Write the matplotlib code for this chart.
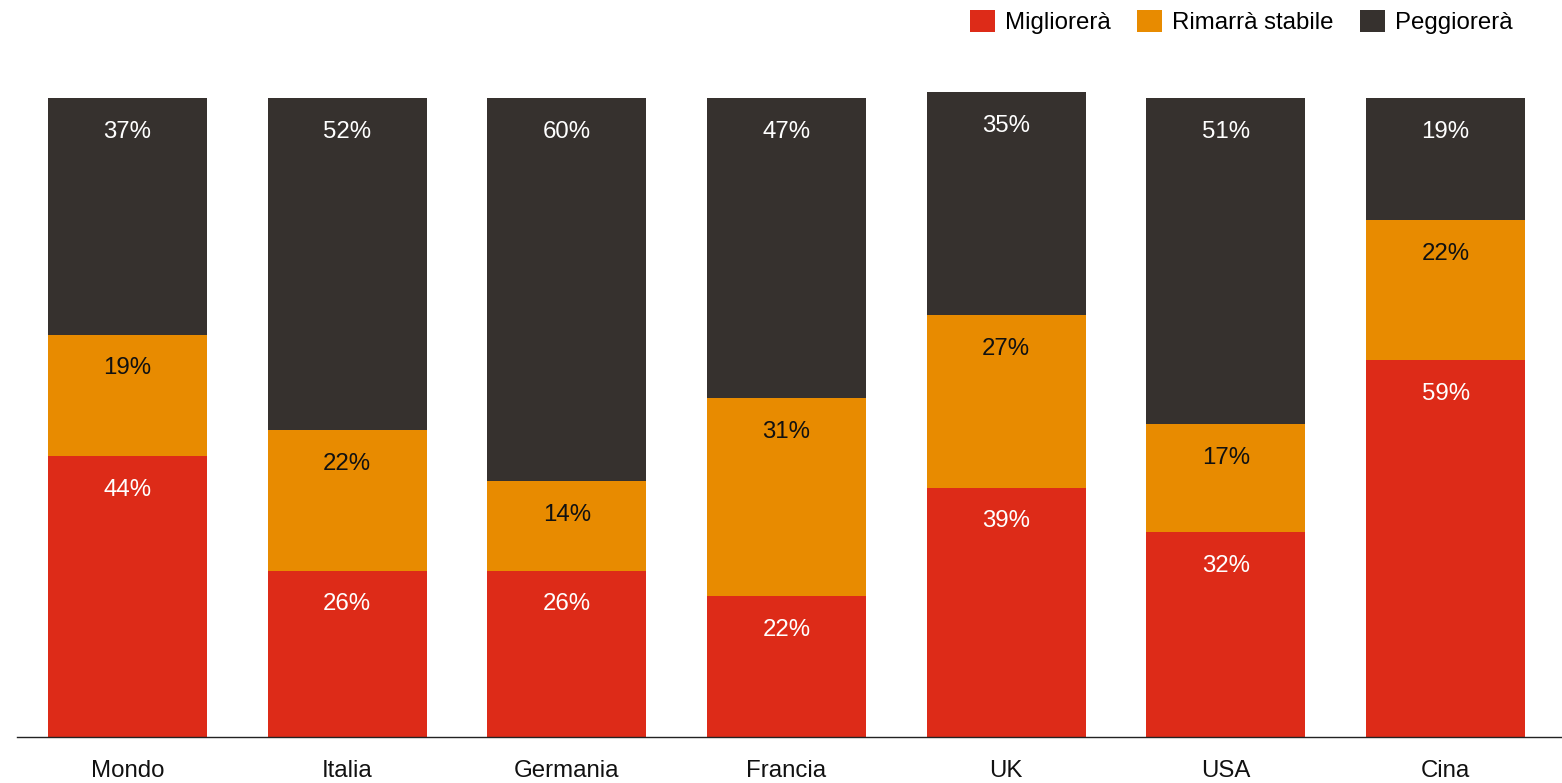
import numpy as np
import matplotlib.pyplot as plt

plt.rcParams['font.family'] = ['Liberation Sans', 'DejaVu Sans']

# dati
paesi = ['Mondo', 'Italia', 'Germania', 'Francia', 'UK', 'USA', 'Cina']
migliorera = [44, 26, 26, 22, 39, 32, 59]
stabile = [19, 22, 14, 31, 27, 17, 22]
peggiorera = [37, 52, 60, 47, 35, 51, 19]

serie = [
    ('Migliorerà', migliorera, '#DD2B18', 'white'),
    ('Rimarrà stabile', stabile, '#E88B00', '#111111'),
    ('Peggiorerà', peggiorera, '#36312E', 'white'),
]

FS = 17.3

fig = plt.figure(figsize=(15.62, 7.83), dpi=100)
ax = fig.add_axes([17 / 1562, (783 - 736.5) / 783, 1545 / 1562, (736.5 - 90) / 783])

x = np.arange(len(paesi))
base = np.zeros(len(paesi))
for nome, valori, colore, col_testo in serie:
    valori = np.array(valori, dtype=float)
    ax.bar(x, valori, width=0.724, bottom=base, color=colore, label=nome, linewidth=0)
    for xi, b, v in zip(x, base, valori):
        ax.text(xi, b + v - 5.3, f'{int(v)}%', ha='center', va='center',
                fontsize=FS, color=col_testo)
    base += valori

ax.set_xlim(-0.503, 6.53)
ax.set_ylim(0, 101.33)
for s in ['top', 'right', 'left']:
    ax.spines[s].set_visible(False)
ax.spines['bottom'].set_linewidth(1)
ax.spines['bottom'].set_color('#222222')
ax.set_yticks([])
ax.set_xticks(x)
ax.set_xticklabels(paesi, fontsize=FS, color='#111111')
ax.tick_params(axis='x', length=0, pad=17)

fig.legend(loc='upper right', bbox_to_anchor=(0.9744, 1.0), ncol=3, frameon=False,
           fontsize=FS, handlelength=1.04, handleheight=1.04, handletextpad=0.42,
           columnspacing=1.08, borderaxespad=0.0)

fig.savefig('out.png', dpi=100)
